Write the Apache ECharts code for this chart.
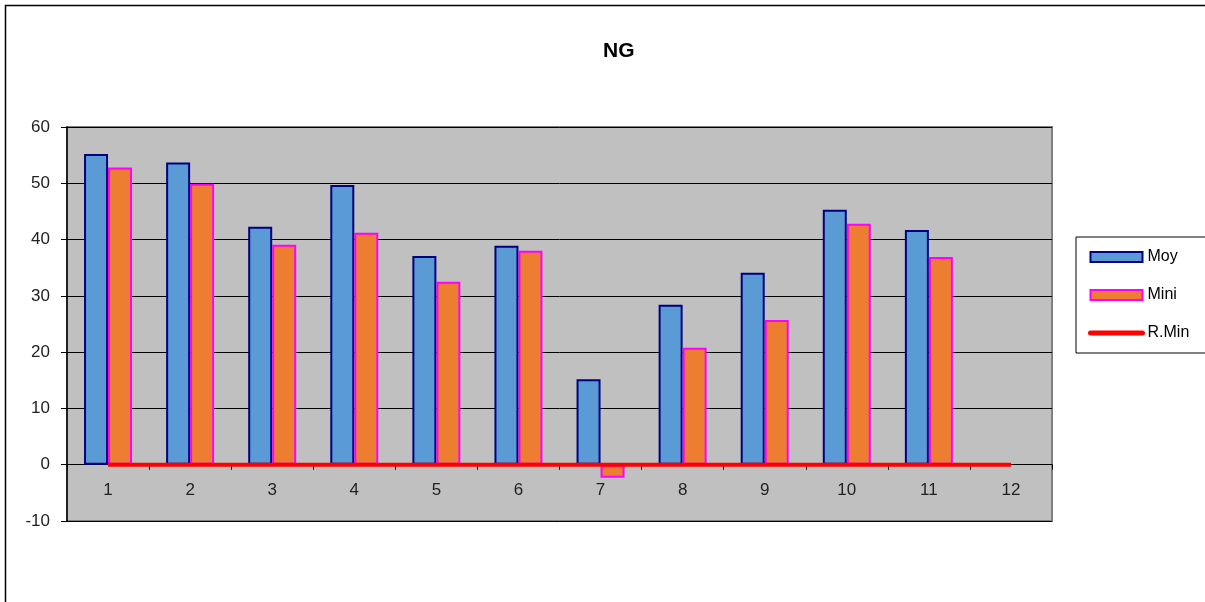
<!DOCTYPE html>
<html>
<head>
<meta charset="utf-8">
<title>NG</title>
<script src="https://cdn.jsdelivr.net/npm/echarts@6/dist/echarts.min.js"></script>
<style>
  html, body { margin: 0; padding: 0; background: #fff; }
  #chart { width: 1205px; height: 602px; }
</style>
</head>
<body>
<div id="chart"></div>
<script>
// données
var categories = ['1', '2', '3', '4', '5', '6', '7', '8', '9', '10', '11', '12'];
var moy  = [55.2, 53.7, 42.3, 49.7, 37.1, 38.9, 15.2, 28.4, 34.1, 45.3, 41.7, null];
var mini = [52.8, 49.9, 39.1, 41.2, 32.5, 38.0, -2.3, 20.8, 25.7, 42.8, 36.9, null];
var rMin = [0, 0, 0, 0, 0, 0, 0, 0, 0, 0, 0, 0];
var yTicks = { min: -10, max: 60, step: 10 };

var chart = echarts.init(document.getElementById('chart'));

// hauteur de la zone de tracé -> décalage de l'axe X sur la valeur 0
var gridTop = 127, gridBottom = 81;
var plotH = 602 - gridTop - gridBottom;
var zeroOffset = -plotH * (0 - yTicks.min) / (yTicks.max - yTicks.min);

var option = {
  backgroundColor: '#fff',
  animation: false,
  title: {
    text: 'NG',
    left: 598,
    top: 36,
    textStyle: { fontFamily: 'Liberation Sans, Arial', fontSize: 21, fontWeight: 'bold', color: '#000' }
  },
  graphic: [{
    type: 'rect',
    shape: { x: 5.5, y: 5.5, width: 1400, height: 800 },
    style: { fill: 'none', stroke: '#000', lineWidth: 1.5 },
    silent: true
  }],
  legend: {
    orient: 'vertical',
    left: 1076,
    top: 237,
    padding: [12, 80, 12, 12],
    itemGap: 22,
    itemWidth: 52,
    itemHeight: 10,
    itemTextGap: 5,
    borderColor: '#000',
    borderWidth: 1,
    textStyle: { fontFamily: 'Liberation Sans, Arial', fontSize: 16, color: '#000' },
    data: [
      { name: 'Moy', icon: 'rect' },
      { name: 'Mini', icon: 'rect' },
      {
        name: 'R.Min',
        itemStyle: { color: 'rgba(0,0,0,0)', borderColor: 'rgba(0,0,0,0)', borderWidth: 0, opacity: 0 },
        lineStyle: { color: '#FF0000', width: 5, cap: 'round' }
      }
    ]
  },
  grid: {
    left: 67,
    right: 153,
    top: gridTop,
    bottom: gridBottom,
    show: true,
    backgroundColor: '#C0C0C0',
    borderColor: '#808080',
    borderWidth: 2
  },
  xAxis: {
    type: 'category',
    data: categories,
    boundaryGap: true,
    offset: zeroOffset,
    axisLine: { onZero: false, lineStyle: { color: '#000', width: 1 } },
    axisTick: { show: true, length: 5, interval: 0, lineStyle: { color: '#000' } },
    axisLabel: { margin: 17, fontFamily: 'Liberation Sans, Arial', fontSize: 17, color: '#222' },
    splitLine: { show: false }
  },
  yAxis: {
    type: 'value',
    min: yTicks.min,
    max: yTicks.max,
    interval: yTicks.step,
    axisLine: { show: true, lineStyle: { color: '#000', width: 1.5 } },
    axisTick: { show: true, length: 6, lineStyle: { color: '#000' } },
    axisLabel: { margin: 17, fontFamily: 'Liberation Sans, Arial', fontSize: 17, color: '#222' },
    splitLine: { show: true, lineStyle: { color: '#000', width: 1 } }
  },
  series: [
    {
      name: 'Moy',
      type: 'bar',
      data: moy,
      barWidth: 24,
      barGap: '0%',
      itemStyle: { color: '#5B9BD5', borderColor: '#000080', borderWidth: 2 }
    },
    {
      name: 'Mini',
      type: 'bar',
      data: mini,
      barWidth: 24,
      barGap: '0%',
      itemStyle: { color: '#ED7D31', borderColor: '#FF00FF', borderWidth: 2 }
    },
    {
      name: 'R.Min',
      type: 'line',
      data: rMin,
      symbol: 'none',
      z: 5,
      lineStyle: { color: '#FF0000', width: 4 },
      itemStyle: { color: '#FF0000' }
    }
  ]
};

chart.setOption(option);
</script>
</body>
</html>
